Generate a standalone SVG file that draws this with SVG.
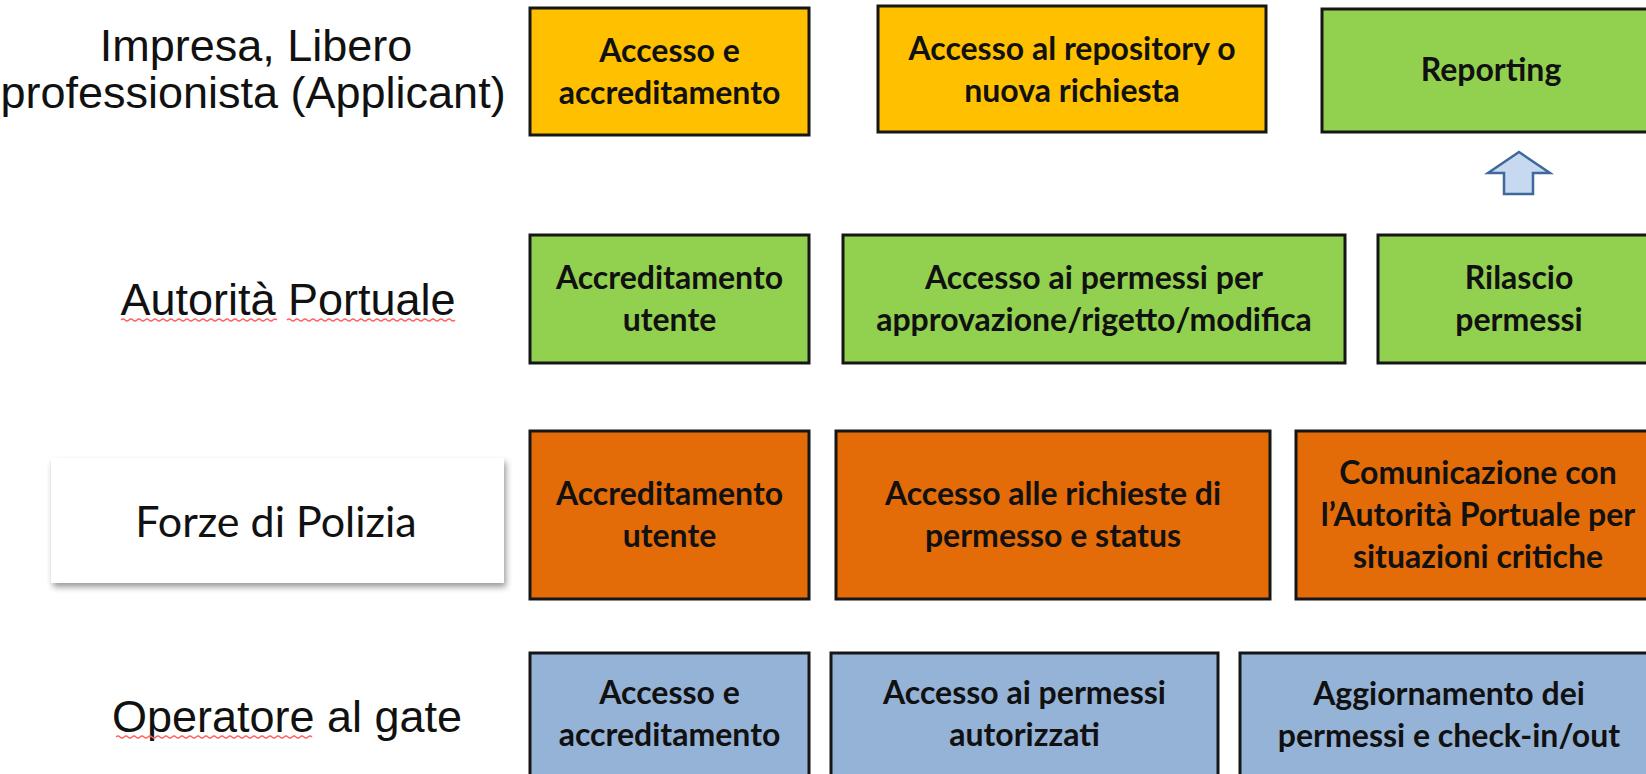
<svg xmlns="http://www.w3.org/2000/svg" width="1646" height="774" viewBox="0 0 1646 774">
<defs>
<style>
.box{stroke:#161616;stroke-width:3}
.y{fill:#FFC000}.g{fill:#92D050}.o{fill:#E36C09}.b{fill:#95B3D7}
.t{font-family:Lato,"Open Sans",sans-serif;font-weight:bold;font-size:32px;fill:#111;text-anchor:middle}
.lab{font-family:"Liberation Sans",Arial,sans-serif;font-size:45px;fill:#111;text-anchor:middle}
.sq{fill:none;stroke:#FF6060;stroke-width:1.3}
</style>
<filter id="sh" x="-10%" y="-20%" width="125%" height="150%">
<feDropShadow dx="2" dy="4" stdDeviation="3" flood-color="#000" flood-opacity="0.4"/>
</filter>
</defs>
<rect width="1646" height="774" fill="#fff"/>

<g id="label-impresa">
<text class="lab" x="256" y="61">Impresa, Libero</text>
<text class="lab" x="253" y="108">professionista (Applicant)</text>
</g>
<g id="label-autorita">
<text class="lab" x="288" y="315">Autorità Portuale</text>
<path class="sq" d="M121 320 q2 -2 4 0 t4 0 t4 0 t4 0 t4 0 t4 0 t4 0 t4 0 t4 0 t4 0 t4 0 t4 0 t4 0 t4 0 t4 0 t4 0 t4 0 t4 0 t4 0 t4 0 t4 0 t4 0 t4 0 t4 0 t4 0 t4 0 t4 0 t4 0 t4 0 t4 0 t4 0 t4 0 t4 0 t4 0 t4 0 t4 0 t4 0 t4 0 t4 0"/>
<path class="sq" d="M287 320 q2 -2 4 0 t4 0 t4 0 t4 0 t4 0 t4 0 t4 0 t4 0 t4 0 t4 0 t4 0 t4 0 t4 0 t4 0 t4 0 t4 0 t4 0 t4 0 t4 0 t4 0 t4 0 t4 0 t4 0 t4 0 t4 0 t4 0 t4 0 t4 0 t4 0 t4 0 t4 0 t4 0 t4 0 t4 0 t4 0 t4 0 t4 0 t4 0 t4 0 t4 0 t4 0 t4 0"/>
</g>
<g id="label-forze">
<rect x="51" y="458" width="453" height="125" fill="#fff" filter="url(#sh)"/>
<text x="276" y="537" font-family="Lato,'Open Sans',sans-serif" font-size="43" fill="#111" text-anchor="middle">Forze di Polizia</text>
</g>
<g id="label-operatore">
<text class="lab" x="287" y="732">Operatore al gate</text>
<path class="sq" d="M116 737 q2 -2 4 0 t4 0 t4 0 t4 0 t4 0 t4 0 t4 0 t4 0 t4 0 t4 0 t4 0 t4 0 t4 0 t4 0 t4 0 t4 0 t4 0 t4 0 t4 0 t4 0 t4 0 t4 0 t4 0 t4 0 t4 0 t4 0 t4 0 t4 0 t4 0 t4 0 t4 0 t4 0 t4 0 t4 0 t4 0 t4 0 t4 0 t4 0 t4 0 t4 0 t4 0 t4 0 t4 0 t4 0 t4 0 t4 0 t4 0 t4 0 t4 0"/>
</g>

<g id="r1a"><rect class="box y" x="530" y="8" width="279" height="127"/>
<text class="t" x="669.5" y="62">Accesso e</text><text class="t" x="669.5" y="104">accreditamento</text></g>
<g id="r1b"><rect class="box y" x="878" y="6" width="388" height="126"/>
<text class="t" x="1072" y="60">Accesso al repository o</text><text class="t" x="1072" y="102">nuova richiesta</text></g>
<g id="r1c"><rect class="box g" x="1322" y="9" width="340" height="123"/>
<text class="t" x="1491" y="81">Reporting</text></g>

<g id="r2a"><rect class="box g" x="530" y="235" width="279" height="128"/>
<text class="t" x="669.5" y="289">Accreditamento</text><text class="t" x="669.5" y="331">utente</text></g>
<g id="r2b"><rect class="box g" x="843" y="235" width="502" height="128"/>
<text class="t" x="1094" y="289">Accesso ai permessi per</text><text class="t" x="1094" y="331">approvazione/rigetto/modifica</text></g>
<g id="r2c"><rect class="box g" x="1378" y="235" width="284" height="128"/>
<text class="t" x="1519" y="289">Rilascio</text><text class="t" x="1519" y="331">permessi</text></g>

<g id="r3a"><rect class="box o" x="530" y="431" width="279" height="168"/>
<text class="t" x="669.5" y="505">Accreditamento</text><text class="t" x="669.5" y="547">utente</text></g>
<g id="r3b"><rect class="box o" x="836" y="431" width="434" height="168"/>
<text class="t" x="1053" y="505">Accesso alle richieste di</text><text class="t" x="1053" y="547">permesso e status</text></g>
<g id="r3c"><rect class="box o" x="1296" y="431" width="366" height="168"/>
<text class="t" x="1478" y="484">Comunicazione con</text><text class="t" x="1478" y="526">l’Autorità Portuale per</text><text class="t" x="1478" y="568">situazioni critiche</text></g>

<g id="r4a"><rect class="box b" x="530" y="653" width="279" height="130"/>
<text class="t" x="669.5" y="704">Accesso e</text><text class="t" x="669.5" y="746">accreditamento</text></g>
<g id="r4b"><rect class="box b" x="831" y="653" width="387" height="130"/>
<text class="t" x="1024.5" y="704">Accesso ai permessi</text><text class="t" x="1024.5" y="746">autorizzati</text></g>
<g id="r4c"><rect class="box b" x="1240" y="653" width="422" height="130"/>
<text class="t" x="1449" y="705">Aggiornamento dei</text><text class="t" x="1449" y="747">permessi e check-in/out</text></g>

<g id="connectors">
<polygon points="1519,152 1550,173 1533,173 1533,194 1504,194 1504,173 1488,173" fill="#C6D9F1" stroke="#41689C" stroke-width="2.5" stroke-linejoin="miter"/>
</g>
</svg>
